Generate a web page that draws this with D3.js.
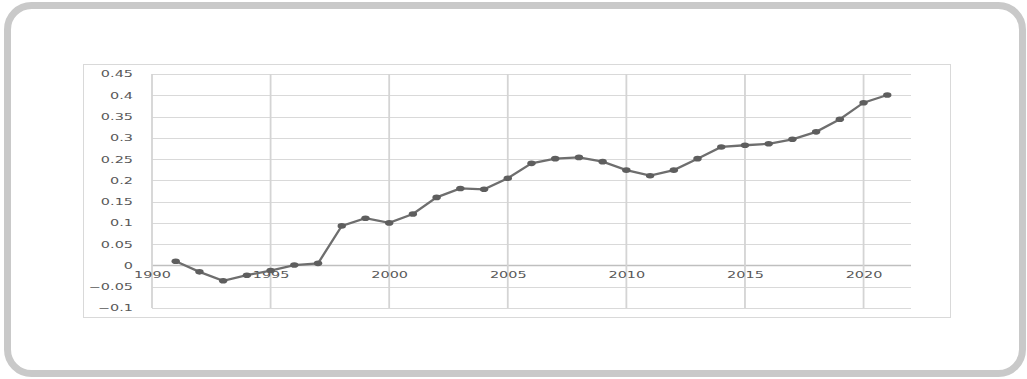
<!DOCTYPE html>
<html>
<head>
<meta charset="utf-8">
<script src="https://cdn.jsdelivr.net/npm/d3@7"></script>
<style>
  body { margin: 0; background: #fff; }
  svg { display: block; }
</style>
</head>
<body>
<div id="chart-area"></div>
<script>
// data
var years = d3.range(1991, 2022);
var values = [0.01, -0.015, -0.036, -0.023, -0.012, 0.001, 0.005, 0.093, 0.111,
  0.1, 0.121, 0.16, 0.181, 0.179, 0.205, 0.24, 0.251, 0.254, 0.244, 0.224,
  0.211, 0.224, 0.251, 0.2785, 0.2825, 0.286, 0.2965, 0.314, 0.3435, 0.3826, 0.4007];
var yTicks = [-0.1, -0.05, 0, 0.05, 0.1, 0.15, 0.2, 0.25, 0.3, 0.35, 0.4, 0.45];
var xTicks = [1990, 1995, 2000, 2005, 2010, 2015, 2020];

var width = 1027;
var height = 379;
var sx = 1.7; // horizontal text stretch of the source picture

var svg = d3.select("#chart-area").append("svg")
  .attr("width", width)
  .attr("height", height)

// outer rounded frame
svg.append("rect")
  .attr("x", 7.5).attr("y", 5.5)
  .attr("width", 1015).attr("height", 368)
  .attr("rx", 24).attr("ry", 24)
  .attr("fill", "#fff")
  .attr("stroke", "#c9c9c9")
  .attr("stroke-width", 7)

// chart area border
svg.append("rect")
  .attr("x", 83.5).attr("y", 64.5)
  .attr("width", 867).attr("height", 253)
  .attr("fill", "none")
  .attr("stroke", "#d9d9d9")
  .attr("stroke-width", 1)

var x = d3.scaleLinear().domain([1990, 2022]).range([152, 911])
var y = d3.scaleLinear().domain([-0.1, 0.45]).range([308, 74])

// horizontal grid
svg.append("g")
  .selectAll("line").data(yTicks).enter().append("line")
  .attr("x1", x(1990)).attr("x2", x(2022))
  .attr("y1", d => Math.round(y(d)) + 0.5)
  .attr("y2", d => Math.round(y(d)) + 0.5)
  .attr("stroke", d => d === 0 ? "#bfbfbf" : "#d9d9d9")
  .attr("stroke-width", d => d === 0 ? 1.3 : 1)

// vertical grid
svg.append("g")
  .selectAll("line").data(xTicks).enter().append("line")
  .attr("x1", d => x(d)).attr("x2", d => x(d))
  .attr("y1", y(0.45)).attr("y2", y(-0.1))
  .attr("stroke", "#d4d4d4")
  .attr("stroke-width", 1.8)

// y axis labels
var yAxisCall = d3.axisLeft(y)
  .tickValues(yTicks)
  .tickSize(0)
  .tickFormat(d => d3.format("")(+d.toFixed(2)))

var yAxis = svg.append("g")
  .attr("transform", "translate(152, 0)")
  .call(yAxisCall)
yAxis.select(".domain").remove()
yAxis.selectAll("text")
  .attr("x", -19 / sx)
  .attr("dy", "0.35em")
  .attr("transform", "scale(" + sx + ",1)")
  .attr("font-family", "DejaVu Sans")
  .attr("font-size", "8.5px")
  .attr("fill", "#595959")

// x axis labels, sitting on the zero line
var xAxisCall = d3.axisBottom(x)
  .tickValues(xTicks)
  .tickSize(0)
  .tickFormat(d3.format("d"))

var xAxis = svg.append("g")
  .attr("transform", "translate(0, " + y(0) + ")")
  .call(xAxisCall)
xAxis.select(".domain").remove()
xAxis.selectAll("text")
  .attr("y", 10)
  .attr("dy", "0.35em")
  .attr("transform", "scale(" + sx + ",1)")
  .attr("font-family", "DejaVu Sans")
  .attr("font-size", "8.5px")
  .attr("fill", "#595959")

// line
var line = d3.line()
  .x((d, i) => x(years[i]))
  .y(d => y(d))

svg.append("path")
  .datum(values)
  .attr("d", line)
  .attr("fill", "none")
  .attr("stroke", "#6e6e6e")
  .attr("stroke-width", 2.3)

// markers
svg.append("g")
  .selectAll("ellipse").data(values).enter().append("ellipse")
  .attr("cx", (d, i) => x(years[i]))
  .attr("cy", d => y(d))
  .attr("rx", 4.2)
  .attr("ry", 2.8)
  .attr("fill", "#5e5e5e")
</script>
</body>
</html>
